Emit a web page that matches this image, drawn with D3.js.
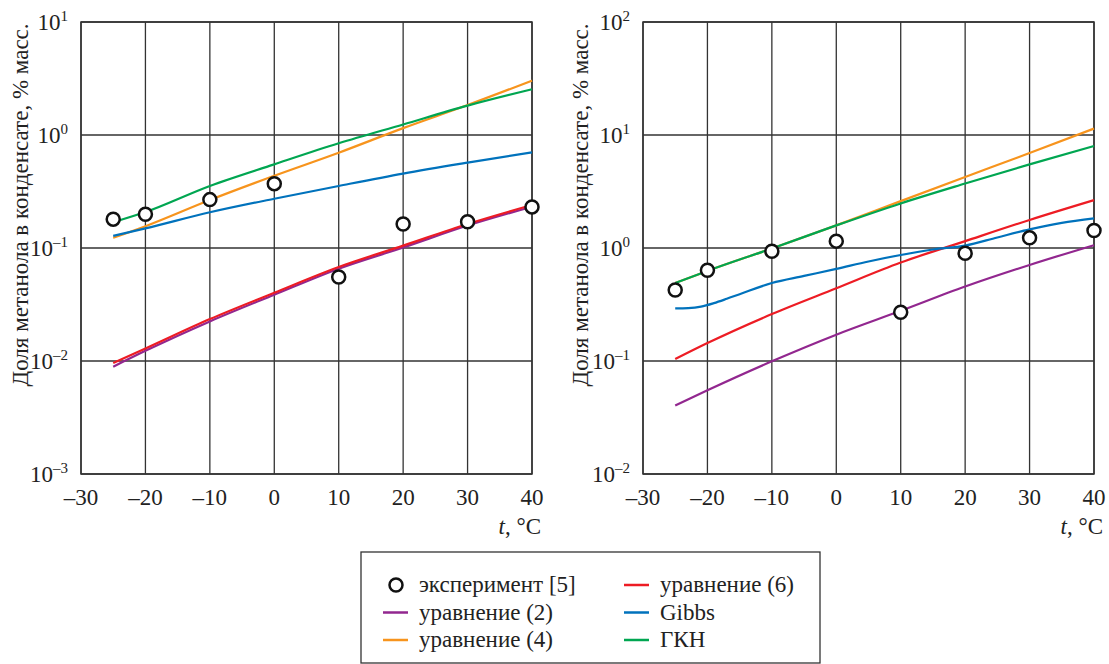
<!DOCTYPE html>
<html>
<head>
<meta charset="utf-8">
<script src="https://cdn.jsdelivr.net/npm/d3@7.9.0/dist/d3.min.js"></script>
<style>
  body { margin: 0; background: #fff; }
</style>
</head>
<body>
<svg id="chart" width="1109" height="664"></svg>
<script>
// temperatures, °C
const temps = [-25, -20, -10, 0, 10, 20, 30, 40];
const xTicks = [-30, -20, -10, 0, 10, 20, 30, 40];

// left panel
const expLeft   = [0.18, 0.199, 0.268, 0.371, 0.0554, 0.163, 0.171, 0.231];
const eq2Left   = [0.0089, 0.0123, 0.0224, 0.0386, 0.0656, 0.101, 0.158, 0.232];
const eq4Left   = [0.123, 0.156, 0.266, 0.436, 0.697, 1.15, 1.84, 3.03];
const eq6Left   = [0.0096, 0.0129, 0.0235, 0.0402, 0.0679, 0.105, 0.163, 0.24];
const gibbsLeft = [0.128, 0.149, 0.207, 0.273, 0.354, 0.455, 0.569, 0.703];
const gknLeft   = [0.169, 0.208, 0.354, 0.55, 0.844, 1.24, 1.82, 2.54];
const yTicksLeft = [-3, -2, -1, 0, 1];

// right panel
const expRight   = [0.425, 0.635, 0.935, 1.15, 0.27, 0.897, 1.23, 1.43];
const eq2Right   = [0.0404, 0.0551, 0.0994, 0.171, 0.278, 0.456, 0.708, 1.06];
const eq4Right   = [0.49, 0.627, 0.99, 1.585, 2.6, 4.25, 6.93, 11.4];
const eq6Right   = [0.104, 0.144, 0.26, 0.44, 0.743, 1.15, 1.77, 2.65];
const gknRight   = [0.49, 0.627, 0.99, 1.585, 2.48, 3.72, 5.5, 8.0];
const gibbsRightT = [-25, -23, -21, -19, -17, -15, -10, -5, 0, 5, 10, 15, 20, 25, 30, 35, 40];
const gibbsRight  = [0.292, 0.294, 0.303, 0.325, 0.355, 0.39, 0.49, 0.566, 0.653, 0.76, 0.867, 0.97, 1.05, 1.24, 1.46, 1.67, 1.83];
const yTicksRight = [-2, -1, 0, 1, 2];

const colors = {
  eq2: '#92278f', eq4: '#f7941d', eq6: '#ed1c24', gibbs: '#0072bc', gkn: '#00a651'
};
const yTitle = 'Доля метанола в конденсате, % масс.';

const svg = d3.select('#chart');
const plotTop = 22, plotBottom = 474;
const fs = 23;
const serif = "'Liberation Serif'";

function zip(xs, ys) { return xs.map((t, i) => ({ t: t, v: ys[i] })); }
function dash(d) { return d < 0 ? '\u2013' + Math.abs(d) : String(d); }
// every text element gets the font directly
function txt(sel) {
  return sel.append('text').attr('font-family', serif).attr('font-size', fs).attr('fill', '#222');
}

function drawPanel(p) {
  const x = d3.scaleLinear().domain([-30, 40]).range([p.x0, p.x1]);
  const y = d3.scaleLog().domain([Math.pow(10, p.yTicks[0]), Math.pow(10, p.yTicks[p.yTicks.length - 1])]).range([plotBottom, plotTop]);
  const g = svg.append('g');

  // grid
  g.selectAll('.vg').data(xTicks).join('line')
    .attr('x1', d => x(d)).attr('x2', d => x(d))
    .attr('y1', plotTop).attr('y2', plotBottom)
    .attr('stroke', '#333').attr('stroke-width', 1.3);
  g.selectAll('.hg').data(p.yTicks).join('line')
    .attr('x1', p.x0).attr('x2', p.x1)
    .attr('y1', d => y(Math.pow(10, d))).attr('y2', d => y(Math.pow(10, d)))
    .attr('stroke', '#333').attr('stroke-width', 1.3);
  g.append('rect').attr('x', p.x0).attr('y', plotTop)
    .attr('width', p.x1 - p.x0).attr('height', plotBottom - plotTop)
    .attr('fill', 'none').attr('stroke', '#333').attr('stroke-width', 1.5);

  // x tick labels
  xTicks.forEach(d => {
    txt(g).attr('x', x(d)).attr('y', plotBottom + 31)
      .attr('text-anchor', 'middle').text(dash(d));
  });
  const xt = txt(g).attr('x', p.x1 + 9).attr('y', plotBottom + 60).attr('text-anchor', 'end');
  xt.append('tspan').attr('font-style', 'italic').text('t');
  xt.append('tspan').text(', °C');

  // y tick labels
  p.yTicks.forEach(d => {
    const t = txt(g).attr('x', p.x0 - 13).attr('y', y(Math.pow(10, d)) + 8)
      .attr('text-anchor', 'end');
    t.append('tspan').text('10');
    t.append('tspan').attr('font-size', 15).attr('dy', -9).text(dash(d));
  });

  txt(g).attr('transform', `translate(${p.titleX},205) rotate(-90)`)
    .attr('text-anchor', 'middle').text(yTitle);

  const line = d3.line().x(d => x(d.t)).y(d => y(d.v)).curve(d3.curveMonotoneX);
  p.series.forEach(s => {
    g.append('path').attr('d', line(zip(s.t, s.v)))
      .attr('fill', 'none').attr('stroke', s.color).attr('stroke-width', 2.2);
  });

  g.selectAll('.pt').data(zip(temps, p.exp)).join('circle')
    .attr('cx', d => x(d.t)).attr('cy', d => y(d.v)).attr('r', 6.5)
    .attr('fill', '#fff').attr('stroke', '#111').attr('stroke-width', 2.5);
}

drawPanel({
  x0: 81, x1: 532, yTicks: yTicksLeft, titleX: 28, exp: expLeft,
  series: [
    { t: temps, v: eq2Left, color: colors.eq2 },
    { t: temps, v: eq4Left, color: colors.eq4 },
    { t: temps, v: eq6Left, color: colors.eq6 },
    { t: temps, v: gibbsLeft, color: colors.gibbs },
    { t: temps, v: gknLeft, color: colors.gkn }
  ]
});

drawPanel({
  x0: 643, x1: 1094, yTicks: yTicksRight, titleX: 588, exp: expRight,
  series: [
    { t: temps, v: eq2Right, color: colors.eq2 },
    { t: temps, v: eq4Right, color: colors.eq4 },
    { t: temps, v: eq6Right, color: colors.eq6 },
    { t: gibbsRightT, v: gibbsRight, color: colors.gibbs },
    { t: temps, v: gknRight, color: colors.gkn }
  ]
});

// legend
const legendItems = [
  { label: 'эксперимент [5]', type: 'circle', col: 0, row: 0 },
  { label: 'уравнение (2)', color: colors.eq2, col: 0, row: 1 },
  { label: 'уравнение (4)', color: colors.eq4, col: 0, row: 2 },
  { label: 'уравнение (6)', color: colors.eq6, col: 1, row: 0 },
  { label: 'Gibbs', color: colors.gibbs, col: 1, row: 1 },
  { label: 'ГКН', color: colors.gkn, col: 1, row: 2 }
];
const lg = svg.append('g');
lg.append('rect').attr('x', 361).attr('y', 552).attr('width', 459).attr('height', 111)
  .attr('fill', '#fff').attr('stroke', '#333').attr('stroke-width', 1.3);
const colX = [383, 624];
legendItems.forEach(d => {
  const lx = colX[d.col], ly = 585 + d.row * 27.5;
  if (d.type === 'circle') {
    lg.append('circle').attr('cx', lx + 13).attr('cy', ly).attr('r', 6.5)
      .attr('fill', '#fff').attr('stroke', '#111').attr('stroke-width', 2.5);
  } else {
    lg.append('line').attr('x1', lx).attr('x2', lx + 25).attr('y1', ly).attr('y2', ly)
      .attr('stroke', d.color).attr('stroke-width', 2.5);
  }
  txt(lg).attr('x', lx + 36).attr('y', ly + 7).text(d.label);
});
</script>
</body>
</html>
